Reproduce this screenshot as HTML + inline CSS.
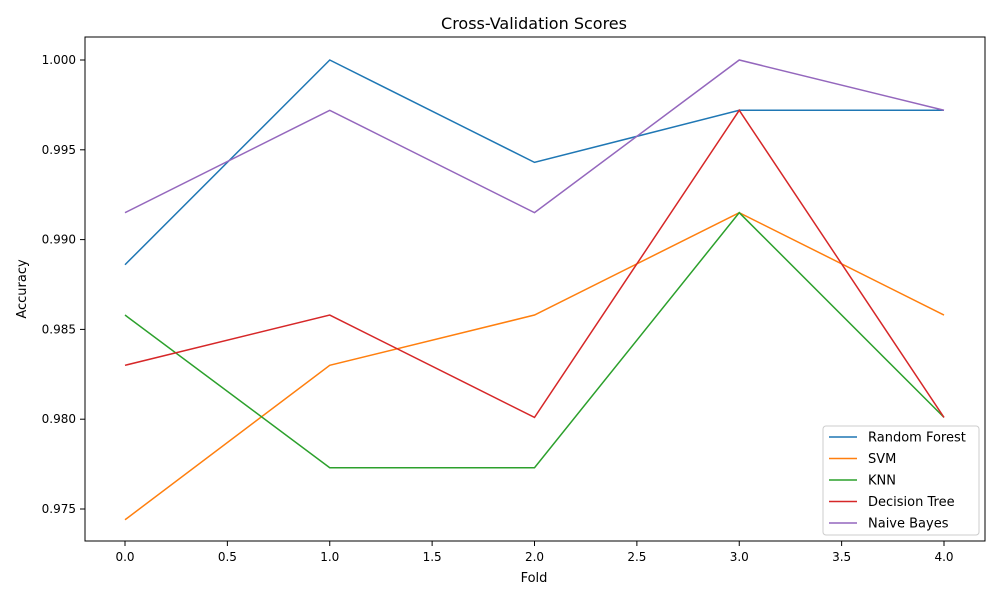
<!DOCTYPE html>
<html><head><meta charset="utf-8"><style>
body{margin:0;background:#fff;font-family:"Liberation Sans","DejaVu Sans",sans-serif}
svg text{font-family:"DejaVu Sans","Liberation Sans",sans-serif;fill:#000}
</style></head><body>
<svg id="chart" width="1000" height="600" xmlns="http://www.w3.org/2000/svg">
<rect width="1000" height="600" fill="#fff"/>
<text x="534" y="29" font-size="16" text-anchor="middle">Cross-Validation Scores</text>
<g id="axes"></g>
<g id="lines"></g>
<rect x="85" y="37" width="900" height="504" fill="none" stroke="#000" stroke-width="1"/>
<text x="534" y="582" font-size="13" text-anchor="middle">Fold</text>
<text x="26" y="289" font-size="13" text-anchor="middle" transform="rotate(-90 26 289)">Accuracy</text>
<g id="legend"></g>
</svg>
<script>
const folds=[0,1,2,3,4];
const seriesNames=["Random Forest","SVM","KNN","Decision Tree","Naive Bayes"];
const rf=[0.9886,1.0,0.9943,0.9972,0.9972];
const svm=[0.9744,0.9830,0.9858,0.9915,0.9858];
const knn=[0.9858,0.9773,0.9773,0.9915,0.9801];
const dt=[0.9830,0.9858,0.9801,0.9972,0.9801];
const nb=[0.9915,0.9972,0.9915,1.0,0.9972];
const xTicks=[0,0.5,1,1.5,2,2.5,3,3.5,4];
const xTickLabels=["0.0","0.5","1.0","1.5","2.0","2.5","3.0","3.5","4.0"];
const yTicks=[0.975,0.980,0.985,0.990,0.995,1.000];
const yTickLabels=["0.975","0.980","0.985","0.990","0.995","1.000"];
const colors=["#1f77b4","#ff7f0e","#2ca02c","#d62728","#9467bd"];
const allSeries=[rf,svm,knn,dt,nb];
const NS="http://www.w3.org/2000/svg";
const xs=v=>125+v*(944-125)/4;
const ys=v=>509-(v-0.975)*(509-60)/0.025;
function mk(t,a,p){const e=document.createElementNS(NS,t);for(const k in a)e.setAttribute(k,a[k]);p.appendChild(e);return e;}
const axes=document.getElementById('axes');
xTicks.forEach((t,i)=>{
 const l=mk('line',{x1:xs(t),x2:xs(t),y1:541,y2:546,stroke:'#000'},axes);
 
 
 const tx=mk('text',{x:xs(t),y:561,'font-size':12,'text-anchor':'middle'},axes);
 tx.textContent=xTickLabels[i];
 
 
});
yTicks.forEach((t,i)=>{
 const l=mk('line',{x1:80,x2:85,y1:ys(t),y2:ys(t),stroke:'#000'},axes);
 
 
 const tx=mk('text',{x:76,y:ys(t)+4,'font-size':12,'text-anchor':'end'},axes);
 tx.textContent=yTickLabels[i];
 
 
});
const lines=document.getElementById('lines');
allSeries.forEach((s,k)=>{
 const pts=s.map((v,i)=>xs(folds[i])+','+ys(v)).join(' ');
 const p=mk('polyline',{points:pts,fill:'none',stroke:colors[k],'stroke-width':1.5},lines);
 
 
});
const lg=document.getElementById('legend');
const box=mk('rect',{x:823,y:426,width:156,height:109,rx:3,fill:'#fff',stroke:'#ccc'},lg);


seriesNames.forEach((n,k)=>{
 const y=437+k*21.5;
 const l=mk('line',{x1:829,x2:857,y1:y,y2:y,stroke:colors[k],'stroke-width':1.5},lg);
 
 
 const t=mk('text',{x:868,y:y+4.5,'font-size':13},lg);
 t.textContent=n;
 
 
});
</script>
</body></html>
